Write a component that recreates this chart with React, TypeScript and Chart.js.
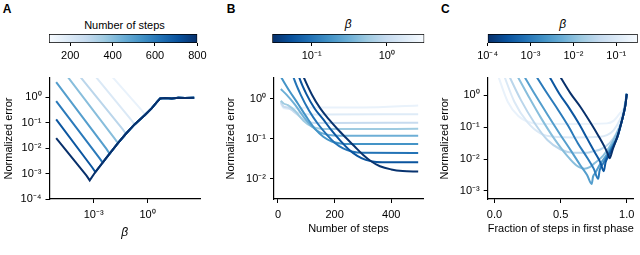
import React, { useEffect, useRef } from "react";
import { Chart, registerables } from "chart.js";

Chart.register(...registerables);

const FONT = "'Liberation Sans', Arial, Helvetica, sans-serif";

// ---------------- Panel A : error vs beta for several step counts ----------------
const aSteps = [800, 700, 600, 500, 400, 300, 200, 100];
const aStartBeta = [
  [8.1e-6, 3.98e-4],
  [8.1e-6, 7.94e-4],
  [8.1e-6, 2.0e-3],
  [8.1e-6, 5.01e-3],
  [2.0e-5, 0.0141],
  [1.0e-4, 0.0398],
  [7.9e-4, 0.12],
  [6.3e-3, 0.468],
];
const aStartError = [
  [0.0251, 8.3e-4],
  [0.1355, 1.82e-3],
  [0.713, 4.27e-3],
  [3.98, 9.55e-3],
  [11.0, 0.0251],
  [10.7, 0.0575],
  [10.0, 0.132],
  [10.0, 0.316],
];
const aSharedBeta = [6.0e-4, 1.24e-3, 3.16e-3, 7.74e-3, 0.0225, 0.0625, 0.19, 0.741, 1.74, 3.3, 5.06, 9.57, 22.5, 52.7, 124, 400];
const aSharedError = [5.42e-4, 1.15e-3, 2.69e-3, 6.05e-3, 0.0159, 0.0371, 0.0863, 0.207, 0.378, 0.652, 0.908, 0.938, 0.908, 0.964, 0.938, 0.964];
const aJoinIndex = [0, 1, 2, 3, 4, 5, 6, 7];
const aXTicks = [1e-3, 1];
const aYTicks = [1e-4, 1e-3, 1e-2, 1e-1, 1];
const aBarTicks = [200, 400, 600, 800];

// ---------------- Panel B : error vs number of steps for several beta ----------------
const bBetas = [0.0316, 0.0562, 0.1, 0.178, 0.316, 0.562, 1.0, 1.78, 3.16];
const bSteps = [
  [70, 90, 120, 150, 180, 210, 240, 270, 300, 330, 360, 400, 440, 495],
  [60, 75, 100, 130, 160, 190, 220, 250, 280, 310, 340, 380, 495],
  [40, 55, 80, 110, 140, 170, 200, 230, 260, 300, 495],
  [10, 40, 70, 100, 130, 160, 190, 220, 260, 495],
  [10, 30, 60, 90, 120, 150, 180, 220, 495],
  [10, 20, 35, 60, 90, 120, 150, 200, 495],
  [10, 20, 35, 60, 90, 120, 160, 495],
  [10, 20, 40, 70, 100, 140, 495],
  [10, 20, 40, 70, 100, 300, 495],
];
const bError = [
  [7.94, 3.55, 1.26, 0.562, 0.302, 0.174, 0.105, 0.0646, 0.0398, 0.0269, 0.0204, 0.017, 0.0155, 0.015],
  [7.94, 3.39, 1.32, 0.562, 0.302, 0.158, 0.0891, 0.0537, 0.0372, 0.0295, 0.0266, 0.0258, 0.0257],
  [7.94, 3.39, 1.26, 0.501, 0.24, 0.132, 0.0794, 0.0575, 0.0479, 0.0442, 0.0439],
  [3.55, 1.58, 0.759, 0.355, 0.178, 0.112, 0.0851, 0.0759, 0.0736, 0.0736],
  [1.74, 1.26, 0.708, 0.355, 0.2, 0.141, 0.123, 0.118, 0.118],
  [0.891, 0.759, 0.692, 0.501, 0.282, 0.2, 0.178, 0.175, 0.176],
  [0.851, 0.631, 0.603, 0.447, 0.302, 0.251, 0.247, 0.251],
  [0.794, 0.603, 0.562, 0.447, 0.407, 0.403, 0.407],
  [0.759, 0.575, 0.562, 0.575, 0.603, 0.603, 0.676],
];
const bXTicks = [0, 200, 400];
const bYTicks = [1e-2, 1e-1, 1];
const bBarTicks = [0.1, 1];

// ---------------- Panel C : error vs fraction of steps in first phase ----------------
const cBetas = [1e-4, 3.16e-4, 1e-3, 3.16e-3, 0.01, 0.0316, 0.1, 0.316];
const cFrac = [
  [0.48, 0.576, 0.65, 0.723, 0.784, 0.833, 0.855, 0.87, 0.895, 0.93, 0.95, 0.975, 0.99, 1.0],
  [0.4, 0.49, 0.565, 0.64, 0.7, 0.76, 0.8, 0.826, 0.84, 0.87, 0.9, 0.93, 0.95, 0.975, 0.99, 1.0],
  [0.3, 0.4, 0.48, 0.56, 0.63, 0.7, 0.75, 0.784, 0.795, 0.82, 0.86, 0.9, 0.93, 0.95, 0.975, 0.99, 1.0],
  [0.21, 0.31, 0.4, 0.5, 0.58, 0.65, 0.7, 0.735, 0.745, 0.76, 0.8, 0.85, 0.9, 0.93, 0.95, 0.975, 0.99, 1.0],
  [0.16, 0.26, 0.35, 0.45, 0.55, 0.62, 0.68, 0.72, 0.75, 0.82, 0.88, 0.93, 0.97, 1.0],
  [0.1, 0.2, 0.3, 0.4, 0.5, 0.6, 0.7, 0.75, 0.8, 0.87, 0.92, 0.96, 0.98, 1.0],
  [0.065, 0.15, 0.25, 0.35, 0.45, 0.6, 0.8, 0.85, 0.9, 0.95, 0.98, 1.0],
  [0.02, 0.1, 0.18, 0.27, 0.4, 0.6, 0.85, 0.9, 0.95, 0.98, 1.0],
];
const cError = [
  [5.01, 1.13, 0.43, 0.145, 0.0551, 0.0237, 0.0151, 0.0106, 0.0209, 0.0525, 0.1, 0.251, 0.501, 1.12],
  [5.01, 1.12, 0.398, 0.126, 0.0447, 0.0158, 0.00794, 0.00417, 0.00794, 0.0141, 0.0251, 0.0501, 0.1, 0.251, 0.501, 1.12],
  [5.01, 1.12, 0.355, 0.105, 0.0316, 0.0112, 0.00501, 0.0024, 0.00447, 0.00708, 0.0141, 0.0282, 0.0501, 0.1, 0.251, 0.501, 1.12],
  [5.01, 1.0, 0.251, 0.0562, 0.0178, 0.00631, 0.00316, 0.00166, 0.00282, 0.00355, 0.00708, 0.0141, 0.0316, 0.0501, 0.1, 0.251, 0.501, 1.12],
  [5.01, 0.891, 0.2, 0.0447, 0.0126, 0.00631, 0.00501, 0.00562, 0.00708, 0.0126, 0.0282, 0.0708, 0.2, 1.12],
  [5.01, 0.708, 0.141, 0.0398, 0.02, 0.0158, 0.0158, 0.0178, 0.02, 0.0316, 0.0631, 0.158, 0.38, 1.12],
  [5.01, 0.631, 0.141, 0.0631, 0.0501, 0.0479, 0.0501, 0.0562, 0.0794, 0.178, 0.38, 1.12],
  [5.01, 0.631, 0.224, 0.141, 0.126, 0.126, 0.132, 0.158, 0.282, 0.417, 1.12],
];
const cXTicks = [0, 0.5, 1.0];
const cYTicks = [1e-3, 1e-2, 1e-1, 1];
const cBarTicks = [1e-4, 1e-3, 1e-2, 1e-1];

// ---------------- helpers ----------------
const BLUES = [
  [247, 251, 255], [222, 235, 247], [198, 219, 239], [158, 202, 225], [107, 174, 214],
  [66, 146, 198], [33, 113, 181], [8, 81, 156], [8, 48, 107],
];
function blues(t: number): string {
  const tt = Math.max(0, Math.min(1, t));
  const p = tt * 8;
  const i = Math.min(7, Math.floor(p));
  const f = p - i;
  const a = BLUES[i], b = BLUES[i + 1];
  const c = a.map((v, k) => Math.round(v + (b[k] - v) * f));
  return `rgb(${c[0]},${c[1]},${c[2]})`;
}
const SUP: Record<string, string> = { "-": "\u207B", "0": "\u2070", "1": "\u00B9", "2": "\u00B2", "3": "\u00B3", "4": "\u2074", "5": "\u2075", "6": "\u2076", "7": "\u2077", "8": "\u2078", "9": "\u2079" };
function powLabel(v: number): string {
  const e = Math.round(Math.log10(v));
  return "10" + String(e).split("").map((ch) => SUP[ch]).join("");
}

function lineDatasets(xs: number[][], ys: number[][], colors: string[], smooth: boolean) {
  return xs.map((xArr, k) => ({
    data: xArr.map((x, i) => ({ x, y: ys[k][i] })),
    borderColor: colors[k],
    borderWidth: 2,
    pointRadius: 0,
    showLine: true,
    fill: false,
    cubicInterpolationMode: smooth ? "monotone" : "default",
    tension: 0,
  }));
}

type AxisSpec = { type: string; min: number; max: number; ticks: number[]; fmt: (v: number) => string };

function axisCommon(spec: AxisSpec) {
  return {
    type: spec.type,
    min: spec.min,
    max: spec.max,
    bounds: "data",
    afterBuildTicks: (s: any) => {
      s.ticks = spec.ticks.map((v) => ({ value: v }));
    },
    ticks: {
      callback: (v: any) => spec.fmt(Number(v)),
      autoSkip: false,
      maxRotation: 0,
      color: "#000",
      font: { size: 11, family: FONT },
    },
    grid: { drawOnChartArea: false, drawTicks: true, tickLength: 4, color: "#000", lineWidth: 1 },
    border: { display: true, color: "#000", width: 1.2 },
  };
}

function mainConfig(o: {
  datasets: any[];
  x: AxisSpec;
  y: AxisSpec;
  yWidth: number;
  xHeight: number;
  padTop: number;
  padRight: number;
  xTitle: string;
  xTitleFont: any;
  xTitlePad: number;
  yTitlePad: number;
}) {
  const xAxis: any = axisCommon(o.x);
  xAxis.position = "bottom";
  xAxis.afterFit = (s: any) => {
    s.height = o.xHeight;
  };
  xAxis.ticks.padding = 5.5;
  xAxis.title = { display: true, text: o.xTitle, color: "#000", font: o.xTitleFont, padding: { top: 0, bottom: o.xTitlePad } };
  const yAxis: any = axisCommon(o.y);
  yAxis.position = "left";
  yAxis.afterFit = (s: any) => {
    s.width = o.yWidth;
  };
  yAxis.ticks.padding = 4;
  yAxis.title = { display: true, text: "Normalized error", color: "#000", font: { size: 11, family: FONT }, padding: { top: o.yTitlePad, bottom: 0 } };
  return {
    type: "scatter",
    data: { datasets: o.datasets },
    options: {
      responsive: false,
      animation: false,
      devicePixelRatio: 1,
      events: [],
      layout: { padding: { top: o.padTop, right: o.padRight, bottom: 0, left: 0 }, autoPadding: false },
      plugins: { legend: { display: false }, tooltip: { enabled: false } },
      scales: { x: xAxis, y: yAxis },
    },
  };
}

function colorbarConfig(o: { spec: AxisSpec; reversed: boolean; padLeft: number; padRight: number }) {
  const xAxis: any = axisCommon(o.spec);
  xAxis.position = "bottom";
  xAxis.afterFit = (s: any) => {
    s.height = 27;
  };
  xAxis.ticks.padding = 3.5;
  xAxis.grid = { drawOnChartArea: false, drawTicks: true, tickLength: 3, color: "#000", lineWidth: 1 };
  xAxis.border = { display: false };
  return {
    type: "bar",
    data: {
      labels: [""],
      datasets: [
        {
          data: [[o.spec.min, o.spec.max]],
          backgroundColor: (ctx: any) => {
            const chart = ctx.chart;
            const area = chart.chartArea;
            if (!area) return "rgba(0,0,0,0)";
            const g = chart.ctx.createLinearGradient(area.left, 0, area.right, 0);
            for (let i = 0; i <= 8; i++) {
              const c = BLUES[o.reversed ? 8 - i : i];
              g.addColorStop(i / 8, `rgb(${c[0]},${c[1]},${c[2]})`);
            }
            return g;
          },
          borderColor: "#000",
          borderWidth: 1,
          borderSkipped: false,
          barPercentage: 1,
          categoryPercentage: 1,
        },
      ],
    },
    options: {
      indexAxis: "y",
      responsive: false,
      animation: false,
      devicePixelRatio: 1,
      events: [],
      layout: { padding: { top: 4, left: o.padLeft, right: o.padRight, bottom: 0 }, autoPadding: false },
      plugins: { legend: { display: false }, tooltip: { enabled: false } },
      scales: { x: xAxis, y: { display: false } },
    },
  };
}

function ChartCanvas(props: { left: number; top: number; width: number; height: number; make: () => any }) {
  const ref = useRef<HTMLCanvasElement | null>(null);
  useEffect(() => {
    if (!ref.current) return;
    const chart = new Chart(ref.current, props.make());
    return () => chart.destroy();
  }, []);
  return (
    <canvas
      ref={ref}
      width={props.width}
      height={props.height}
      style={{ position: "absolute", left: props.left, top: props.top, width: props.width, height: props.height }}
    />
  );
}

// ---------------- panel builders ----------------
function makeA() {
  const xs = aSteps.map((_, k) => [...aStartBeta[k], ...aSharedBeta.slice(aJoinIndex[k])]);
  const ys = aSteps.map((_, k) => [...aStartError[k], ...aSharedError.slice(aJoinIndex[k])]);
  const colors = aSteps.map((s) => blues(Math.max(0.07, (s - 100) / 700)));
  return mainConfig({
    datasets: lineDatasets(xs, ys, colors, false),
    x: { type: "logarithmic", min: 3.44e-6, max: 843, ticks: aXTicks, fmt: powLabel },
    y: { type: "logarithmic", min: 1e-4, max: 5.8, ticks: aYTicks, fmt: powLabel },
    yWidth: 49.5,
    xHeight: 56,
    padTop: 13,
    padRight: 10,
    xTitle: "\u03B2",
    xTitleFont: { size: 12, family: FONT, style: "italic" },
    xTitlePad: 15.5,
    yTitlePad: 1.9,
  });
}

function makeB() {
  const colors = bBetas.map((b) => blues(Math.max(0.07, 1 - (Math.log10(b) + 1.523) / 2.023)));
  return mainConfig({
    datasets: lineDatasets(bSteps, bError, colors, true),
    x: { type: "linear", min: -14, max: 512, ticks: bXTicks, fmt: (v) => String(v) },
    y: { type: "logarithmic", min: 3.1e-3, max: 3.29, ticks: bYTicks, fmt: powLabel },
    yWidth: 62,
    xHeight: 56,
    padTop: 13,
    padRight: 2,
    xTitle: "Number of steps",
    xTitleFont: { size: 11, family: FONT },
    xTitlePad: 19.9,
    yTitlePad: 12.4,
  });
}

function makeC() {
  const colors = cBetas.map((b) => blues(Math.max(0.07, 1 - (Math.log10(b) + 4) / 3.5)));
  return mainConfig({
    datasets: lineDatasets(cFrac, cError, colors, true),
    x: { type: "linear", min: -0.0515, max: 1.054, ticks: cXTicks, fmt: (v) => v.toFixed(1) },
    y: { type: "logarithmic", min: 5.6e-4, max: 3.5, ticks: cYTicks, fmt: powLabel },
    yWidth: 60.7,
    xHeight: 56,
    padTop: 13,
    padRight: 2,
    xTitle: "Fraction of steps in first phase",
    xTitleFont: { size: 11, family: FONT },
    xTitlePad: 19.9,
    yTitlePad: 11.4,
  });
}

const letterStyle = (left: number): React.CSSProperties => ({
  position: "absolute",
  left,
  top: 2,
  fontSize: 12,
  lineHeight: "14px",
  fontWeight: "bold",
  color: "#000",
});
const cbTitleStyle = (left: number, width: number, italic: boolean): React.CSSProperties => ({
  position: "absolute",
  left,
  width,
  top: italic ? 16.5 : 17.5,
  textAlign: "center",
  fontSize: italic ? 12 : 11,
  lineHeight: "14px",
  fontStyle: italic ? "italic" : "normal",
  color: "#000",
});

export default function App() {
  return (
    <div
      style={{
        position: "absolute",
        left: 0,
        top: 0,
        width: 640,
        height: 255,
        background: "#fff",
        overflow: "hidden",
        fontFamily: FONT,
      }}
    >
      <div style={letterStyle(2.7)}>A</div>
      <div style={letterStyle(226.7)}>B</div>
      <div style={letterStyle(441)}>C</div>

      <div style={cbTitleStyle(49, 151, false)}>Number of steps</div>
      <div style={cbTitleStyle(272.3, 152, true)}>{"\u03B2"}</div>
      <div style={cbTitleStyle(487.7, 150, true)}>{"\u03B2"}</div>

      <ChartCanvas
        left={0}
        top={30}
        width={210}
        height={40}
        make={() =>
          colorbarConfig({
            spec: { type: "linear", min: 100, max: 800, ticks: aBarTicks, fmt: (v) => String(v) },
            reversed: false,
            padLeft: 49,
            padRight: 10,
          })
        }
      />
      <ChartCanvas
        left={215}
        top={30}
        width={215}
        height={40}
        make={() =>
          colorbarConfig({
            spec: { type: "logarithmic", min: 0.03, max: 3.16, ticks: bBarTicks, fmt: powLabel },
            reversed: true,
            padLeft: 57.3,
            padRight: 5.7,
          })
        }
      />
      <ChartCanvas
        left={425}
        top={30}
        width={215}
        height={40}
        make={() =>
          colorbarConfig({
            spec: { type: "logarithmic", min: 1e-4, max: 0.316, ticks: cBarTicks, fmt: powLabel },
            reversed: true,
            padLeft: 62.7,
            padRight: 2.3,
          })
        }
      />

      <ChartCanvas left={0} top={65} width={210} height={190} make={makeA} />
      <ChartCanvas left={212} top={65} width={213} height={190} make={makeB} />
      <ChartCanvas left={427} top={65} width={213} height={190} make={makeC} />
    </div>
  );
}
